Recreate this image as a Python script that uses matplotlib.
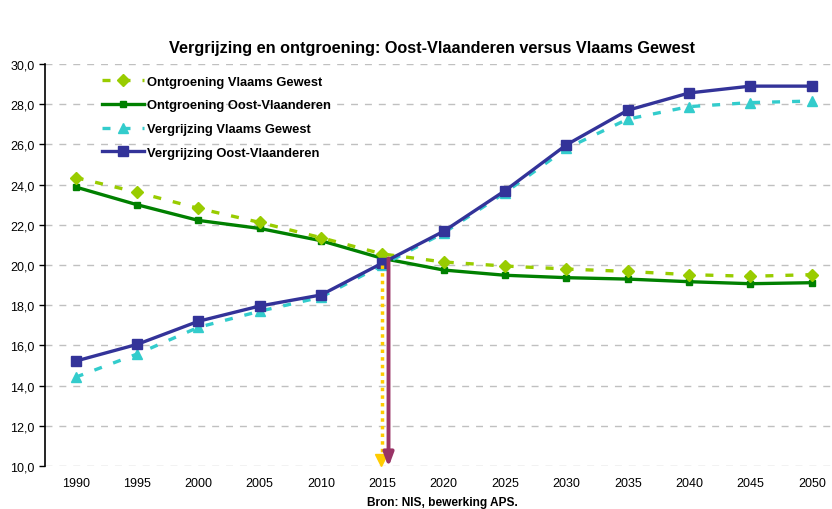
import numpy as np
import matplotlib.pyplot as plt
from matplotlib.ticker import FuncFormatter

plt.rcParams['font.family'] = ['Liberation Sans', 'DejaVu Sans']

# jaren en reeksen
years = ['1990', '1995', '2000', '2005', '2010', '2015', '2020',
         '2025', '2030', '2035', '2040', '2045', '2050']
ontgr_vlaams = [24.35, 23.62, 22.82, 22.12, 21.36, 20.55, 20.15,
                19.95, 19.8, 19.68, 19.52, 19.44, 19.52]
ontgr_oost = [23.88, 23.0, 22.22, 21.82, 21.21, 20.33, 19.75,
              19.49, 19.37, 19.3, 19.17, 19.07, 19.12]
vergr_vlaams = [14.42, 15.57, 16.9, 17.7, 18.4, 20.0, 21.6,
                23.6, 25.8, 27.26, 27.88, 28.08, 28.16]
vergr_oost = [15.22, 16.05, 17.2, 17.96, 18.51, 20.1, 21.68,
              23.7, 25.98, 27.7, 28.56, 28.9, 28.9]

# pijlen bij 2015
arrow_year = 5
arrow_bottom = 10.0

x = np.arange(len(years))

fig = plt.figure(figsize=(8.32, 5.10), dpi=100)
ax = fig.add_axes([0.0541, 0.0843, 0.9459, 0.7882])

ax.plot(x, ontgr_vlaams, color='#99CC00', lw=2.4, ls=(0, (2.4, 3.6)),
        marker='D', ms=6.5, mec='#99CC00', label='Ontgroening Vlaams Gewest', zorder=4)
ax.plot(x, ontgr_oost, color='#008000', lw=2.4,
        marker='s', ms=5, label='Ontgroening Oost-Vlaanderen', zorder=3)
ax.plot(x, vergr_vlaams, color='#33CCCC', lw=2.4, ls=(0, (2.4, 3.6)),
        marker='^', ms=7, label='Vergrijzing Vlaams Gewest', zorder=3)
ax.plot(x, vergr_oost, color='#333399', lw=2.4,
        marker='s', ms=7, label='Vergrijzing Oost-Vlaanderen', zorder=4)

# gele stippellijn en paarse pijl naar beneden
ax.plot([arrow_year, arrow_year], [vergr_vlaams[arrow_year], arrow_bottom + 0.5],
        color='#FFCC00', lw=2.5, ls=(0, (1, 1.2)), zorder=5)
ax.plot([arrow_year - 0.03], [arrow_bottom + 0.3], marker='v', ms=9, color='#FFCC00',
        mec='#FFCC00', zorder=5, clip_on=False)
ax.annotate('', xy=(arrow_year + 0.1, arrow_bottom - 0.05),
            xytext=(arrow_year + 0.1, ontgr_oost[arrow_year]),
            arrowprops=dict(arrowstyle='-|>,head_length=0.8,head_width=0.3',
                            color='#993366', lw=2.8, shrinkA=0, shrinkB=0),
            annotation_clip=False, zorder=6)

ax.set_xlim(-0.5, 12.33)
ax.set_ylim(10, 30)
ax.set_yticks(np.arange(10, 31, 2))
ax.yaxis.set_major_formatter(FuncFormatter(lambda v, p: f'{v:.1f}'.replace('.', ',')))
ax.set_xticks(x)
ax.set_xticklabels(years)
ax.tick_params(axis='x', length=0, labelsize=9, pad=8)
ax.tick_params(axis='y', length=4, width=1, labelsize=9, direction='out')
for s in ['top', 'right', 'bottom']:
    ax.spines[s].set_visible(False)
ax.spines['left'].set_linewidth(1.2)
ax.grid(axis='y', color='#C0C0C0', ls=(0, (5, 5)), lw=1)
ax.set_axisbelow(True)

ax.legend(loc='upper left', bbox_to_anchor=(0.058, 1.0), frameon=False,
          prop={'weight': 'bold', 'size': 9.3}, handlelength=3.2,
          handletextpad=0.3, labelspacing=0.9)

fig.text(0.519, 0.905, 'Vergrijzing en ontgroening: Oost-Vlaanderen versus Vlaams Gewest',
         ha='center', va='center', fontsize=11.7, fontweight='bold')
fig.text(0.532, 0.002, 'Bron: NIS, bewerking APS.', ha='center', va='bottom',
         fontsize=8.6, fontweight='bold')

fig.savefig('out.png', dpi=100)
